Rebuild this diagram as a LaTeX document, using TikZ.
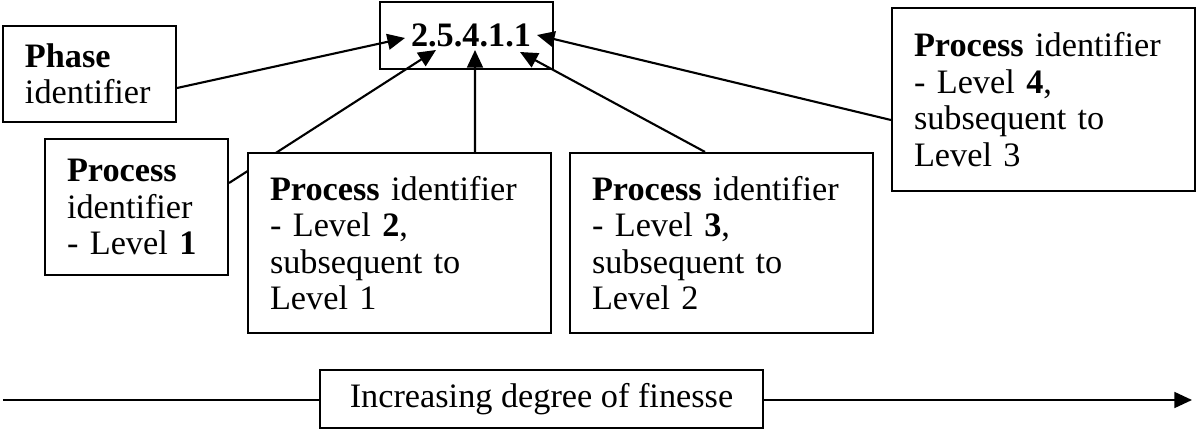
\documentclass[tikz,border=0pt]{standalone}
\usepackage{fontspec}
\setmainfont{Liberation Serif}
\usetikzlibrary{positioning,arrows.meta,backgrounds}

\begin{document}
\begin{tikzpicture}[
    >={Triangle[length=10pt,width=9pt]},
    font=\fontsize{19.5}{20.8}\selectfont,
    idbox/.style={draw, line width=1.2pt, fill=white, align=left, inner xsep=0.44cm, inner ysep=0pt},
    link/.style={->, line width=1.2pt},
  ]
  \useasboundingbox (0,0) rectangle (23.92,-8.64);

  % ============================================================
  % Identifier and its parts
  % ============================================================
  \node[draw, line width=1.2pt, minimum width=3.46cm, minimum height=1.34cm] (code) at (9.33,-0.71)
    {\hspace{0.18cm}\textbf{2.5.4.1.1}};

  \node[idbox, text width=2.58cm, minimum height=1.92cm] (phase) at (1.79,-1.48)
    {\textbf{Phase}\\identifier};

  \node[idbox, text width=2.78cm, minimum height=2.72cm] (lvl1) at (2.73,-4.14)
    {\textbf{Process}\\identifier\\- Level \textbf{1}};

  \node[idbox, text width=5.18cm, minimum height=3.6cm] (lvl2) at (7.99,-4.86)
    {\textbf{Process} identifier\\- Level \textbf{2},\\subsequent to\\Level 1};

  \node[idbox, text width=5.18cm, minimum height=3.6cm] (lvl3) at (14.43,-4.86)
    {\textbf{Process} identifier\\- Level \textbf{3},\\subsequent to\\Level 2};

  \node[idbox, text width=5.18cm, minimum height=3.66cm] (lvl4) at (20.87,-1.99)
    {\textbf{Process} identifier\\- Level \textbf{4},\\subsequent to\\Level 3};

  % tips below / beside the digits
  \coordinate (tPhase) at (8.1,-0.76);
  \coordinate (tLvl1) at (8.72,-1.0);
  \coordinate (tLvl2) at (9.5,-1.0);
  \coordinate (tLvl3) at (10.4,-1.04);
  \coordinate (tLvl4) at (10.74,-0.7);

  % ============================================================
  % Finesse axis
  % ============================================================
  \node[idbox, minimum width=8.86cm, minimum height=1.16cm, align=center] (finesse) at (10.83,-7.98)
    {Increasing degree of finesse};
  \coordinate (axL) at (0.06,-8.0);
  \coordinate (axR) at (23.84,-8.0);

  \begin{pgfonlayer}{background}
    \draw[link] ([yshift=-0.28cm]phase.east) -- (tPhase);
    \draw[link] ([yshift=0.48cm]lvl1.east) -- (tLvl1);
    \draw[link] ([xshift=1.51cm]lvl2.north) -- (tLvl2);
    \draw[link] ([xshift=-0.33cm]lvl3.north) -- (tLvl3);
    \draw[link] ([yshift=-0.41cm]lvl4.west) -- (tLvl4);
    \draw[link] (axL) -- (axR);
  \end{pgfonlayer}

\end{tikzpicture}
\end{document}
